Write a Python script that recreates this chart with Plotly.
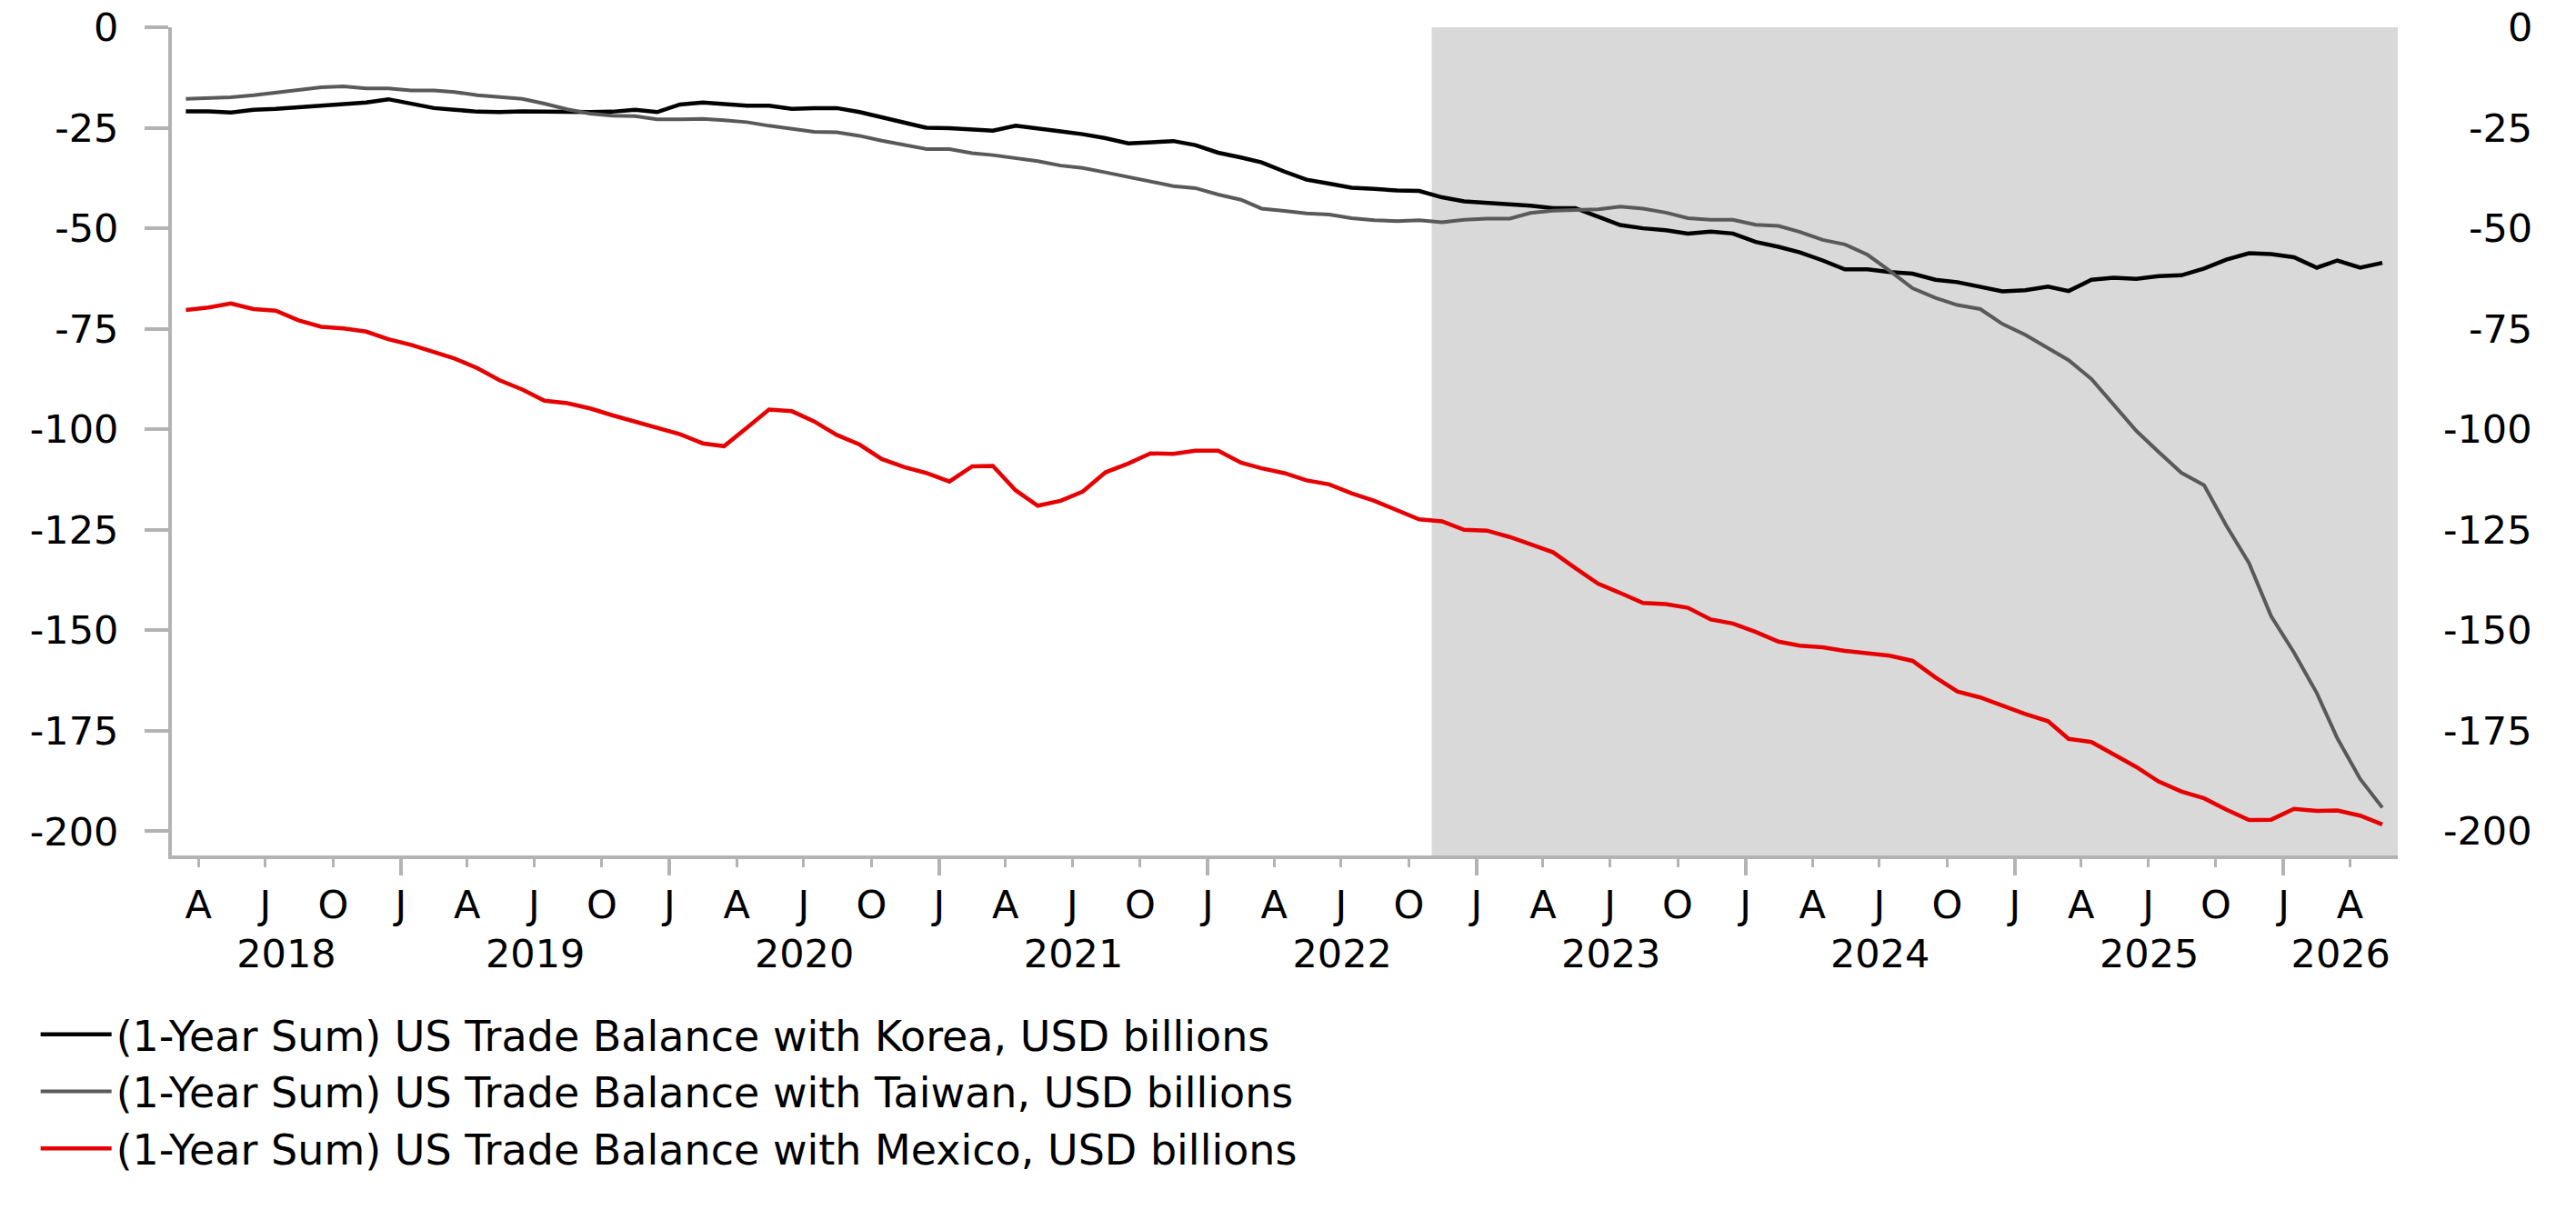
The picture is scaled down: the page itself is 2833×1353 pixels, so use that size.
import pandas as pd
import plotly.graph_objects as go

# 月次データ: 2018年3月〜2026年5月 (月央にプロット)
months = pd.date_range("2018-03-01", "2026-05-01", freq="MS") + pd.Timedelta(days=14)

korea = [
    -20.9, -20.9, -21.2, -20.5, -20.3, -19.9, -19.5, -19.0, -18.7, -17.9,
    -19.0, -20.1, -20.5, -21.0, -21.1, -20.9, -21.0, -21.1, -21.1, -21.0,
    -20.5, -21.1, -19.2, -18.7, -19.1, -19.5, -19.5, -20.3, -20.1, -20.1,
    -21.1, -22.3, -23.6, -25.0, -25.1, -25.5, -25.7, -24.5, -25.3, -25.9,
    -26.6, -27.6, -28.9, -28.7, -28.3, -29.3, -31.2, -32.4, -33.6, -35.9,
    -37.9, -38.9, -39.9, -40.2, -40.6, -40.7, -42.3, -43.3, -43.6, -43.9,
    -44.4, -45.0, -45.0, -47.1, -49.2, -50.0, -50.5, -51.3, -50.8, -51.3,
    -53.4, -54.6, -56.0, -58.0, -60.2, -60.2, -60.9, -61.3, -62.8, -63.4,
    -64.6, -65.7, -65.4, -64.5, -65.6, -62.8, -62.3, -62.6, -61.9, -61.7,
    -60.0, -57.8, -56.2, -56.4, -57.2, -59.8, -58.0, -59.8, -58.6,
]

taiwan = [
    -17.8, -17.7, -17.4, -16.9, -16.3, -15.6, -14.9, -14.7, -15.2, -15.2,
    -15.7, -15.7, -16.1, -16.9, -17.4, -17.8, -19.0, -20.4, -21.5, -22.0,
    -22.1, -22.9, -22.9, -22.8, -23.1, -23.6, -24.5, -25.2, -26.0, -26.1,
    -27.0, -28.2, -29.3, -30.3, -30.3, -31.3, -31.8, -32.6, -33.3, -34.4,
    -35.0, -36.1, -37.2, -38.4, -39.5, -40.0, -41.6, -42.9, -45.1, -45.7,
    -46.3, -46.6, -47.5, -48.0, -48.2, -48.0, -48.5, -47.9, -47.6, -47.6,
    -46.2, -45.6, -45.5, -45.3, -44.6, -45.1, -46.1, -47.5, -47.9, -47.9,
    -49.1, -49.4, -50.9, -52.9, -54.0, -56.6, -60.6, -64.9, -67.3, -69.1,
    -70.1, -73.8, -76.5, -79.7, -82.8, -87.5, -93.9, -100.4, -105.6, -110.8,
    -113.9, -123.9, -133.3, -146.5, -155.5, -165.6, -176.9, -187.0, -194.1,
]

mexico = [
    -70.3, -69.7, -68.7, -70.1, -70.5, -72.9, -74.5, -74.9, -75.7, -77.6,
    -79.0, -80.8, -82.4, -84.8, -87.8, -90.1, -92.9, -93.5, -94.8, -96.5,
    -98.1, -99.4, -101.2, -103.5, -104.2, -99.6, -95.1, -95.5, -98.0, -101.4,
    -103.8, -107.4, -109.4, -110.9, -113.0, -109.2, -109.1, -115.2, -119.0, -117.8,
    -115.5, -110.7, -108.5, -106.0, -106.1, -105.3, -105.3, -108.3, -109.7, -110.9,
    -112.7, -113.7, -115.9, -117.8, -120.0, -122.4, -122.9, -125.0, -125.2, -126.8,
    -128.6, -130.6, -134.5, -138.4, -140.7, -143.2, -143.5, -144.4, -147.3, -148.3,
    -150.4, -152.8, -153.8, -154.2, -155.1, -155.6, -156.3, -157.6, -161.7, -165.2,
    -166.7, -168.7, -170.8, -172.6, -177.0, -177.8, -180.9, -184.0, -187.6, -190.1,
    -191.8, -194.6, -197.2, -197.1, -194.4, -194.9, -194.8, -196.1, -198.3,
]

names = [
    "(1-Year Sum) US Trade Balance with Korea, USD billions",
    "(1-Year Sum) US Trade Balance with Taiwan, USD billions",
    "(1-Year Sum) US Trade Balance with Mexico, USD billions",
]
colors = ["#000000", "#595959", "#e60000"]
widths = [4.5, 4, 4.5]
# x軸: 月の頭文字 / 年の長い目盛り / 年ラベル を3本の重ね軸で描く
xrefs = ["x", "x2", "x3"]

# 目盛り
x_range = [pd.Timestamp("2018-02-24"), pd.Timestamp("2026-06-05")]
quarter_ticks = pd.date_range("2018-04-01", "2026-04-01", freq="QS")
quarter_text = ["JAJO"[(d.month - 1) // 3] for d in quarter_ticks]
year_ticks = pd.date_range("2019-01-01", "2026-01-01", freq="YS")
years = list(range(2018, 2027))
y_ticks = list(range(-200, 1, 25))
y_text = [str(v) for v in y_ticks]
shade_start = pd.Timestamp("2022-11-01")

# 年ラベルは表示範囲内の各年の中央
year_centers = []
for yr in years:
    a = max(x_range[0], pd.Timestamp(yr, 1, 1))
    b = min(x_range[1], pd.Timestamp(yr + 1, 1, 1))
    year_centers.append(a + (b - a) / 2)

axis_gray = "#b3b3b3"
font_family = "DejaVu Sans, Liberation Sans, Arial, sans-serif"
fsize = 43

fig = go.Figure()

for name, vals, color, w, xr in zip(names, [korea, taiwan, mexico], colors, widths, xrefs):
    fig.add_trace(go.Scatter(x=months, y=vals, name=name, mode="lines",
                             xaxis=xr, yaxis="y",
                             line=dict(color=color, width=w)))

# 網掛け期間
fig.add_shape(type="rect", xref="x", yref="paper",
              x0=shade_start, x1=x_range[1], y0=0, y1=1,
              fillcolor="#d9d9d9", line_width=0, layer="below")

# 右側の目盛りラベル(右揃え)
for v, t in zip(y_ticks, y_text):
    fig.add_annotation(x=1, xref="paper", y=v, yref="y", text=t,
                       showarrow=False, xanchor="right", xshift=150,
                       font=dict(size=fsize, color="black", family=font_family))

fig.update_layout(
    width=2833, height=1353,
    margin=dict(l=189, r=196, t=30, b=412, autoexpand=False),
    plot_bgcolor="white", paper_bgcolor="white",
    font=dict(family=font_family, size=fsize, color="black"),
    showlegend=True,
    legend=dict(x=0.014, y=0.186, xref="container", yref="container",
                xanchor="left", yanchor="top",
                font=dict(size=46), itemwidth=78,
                bgcolor="rgba(0,0,0,0)"),
    xaxis=dict(range=x_range, tickvals=quarter_ticks, ticktext=quarter_text,
               ticks="outside", ticklen=9, tickwidth=3, tickcolor=axis_gray,
               showline=True, linecolor=axis_gray, linewidth=4,
               showgrid=False, zeroline=False, ticklabelstandoff=4),
    xaxis2=dict(overlaying="x", anchor="y", side="bottom", range=x_range,
                tickvals=year_ticks, ticks="outside", ticklen=21, tickwidth=4,
                tickcolor=axis_gray, showticklabels=False, showline=False,
                showgrid=False, zeroline=False),
    xaxis3=dict(overlaying="x", anchor="y", side="bottom", range=x_range,
                tickvals=year_centers, ticktext=[str(y) for y in years],
                ticks="", showline=False, showgrid=False, zeroline=False,
                ticklabelstandoff=79),
    yaxis=dict(range=[-206, 0], tickvals=y_ticks, ticktext=y_text,
               ticks="outside", ticklen=26, tickwidth=4, tickcolor=axis_gray,
               showline=True, linecolor=axis_gray, linewidth=4,
               showgrid=False, zeroline=False, ticklabelstandoff=20,
               ticklabeloverflow="allow"),
    yaxis2=dict(overlaying="y", anchor="x", side="right", range=[-206, 0],
                tickvals=y_ticks, ticks="outside", ticklen=26, tickwidth=4,
                tickcolor=axis_gray, showline=True, linecolor=axis_gray,
                linewidth=4, showticklabels=False, showgrid=False,
                zeroline=False),
)

# ページの余白をなくして図をウィンドウ左上に合わせる
fig.write_html("out.html", config={"displayModeBar": False},
               post_script="document.body.style.margin='0px';")
